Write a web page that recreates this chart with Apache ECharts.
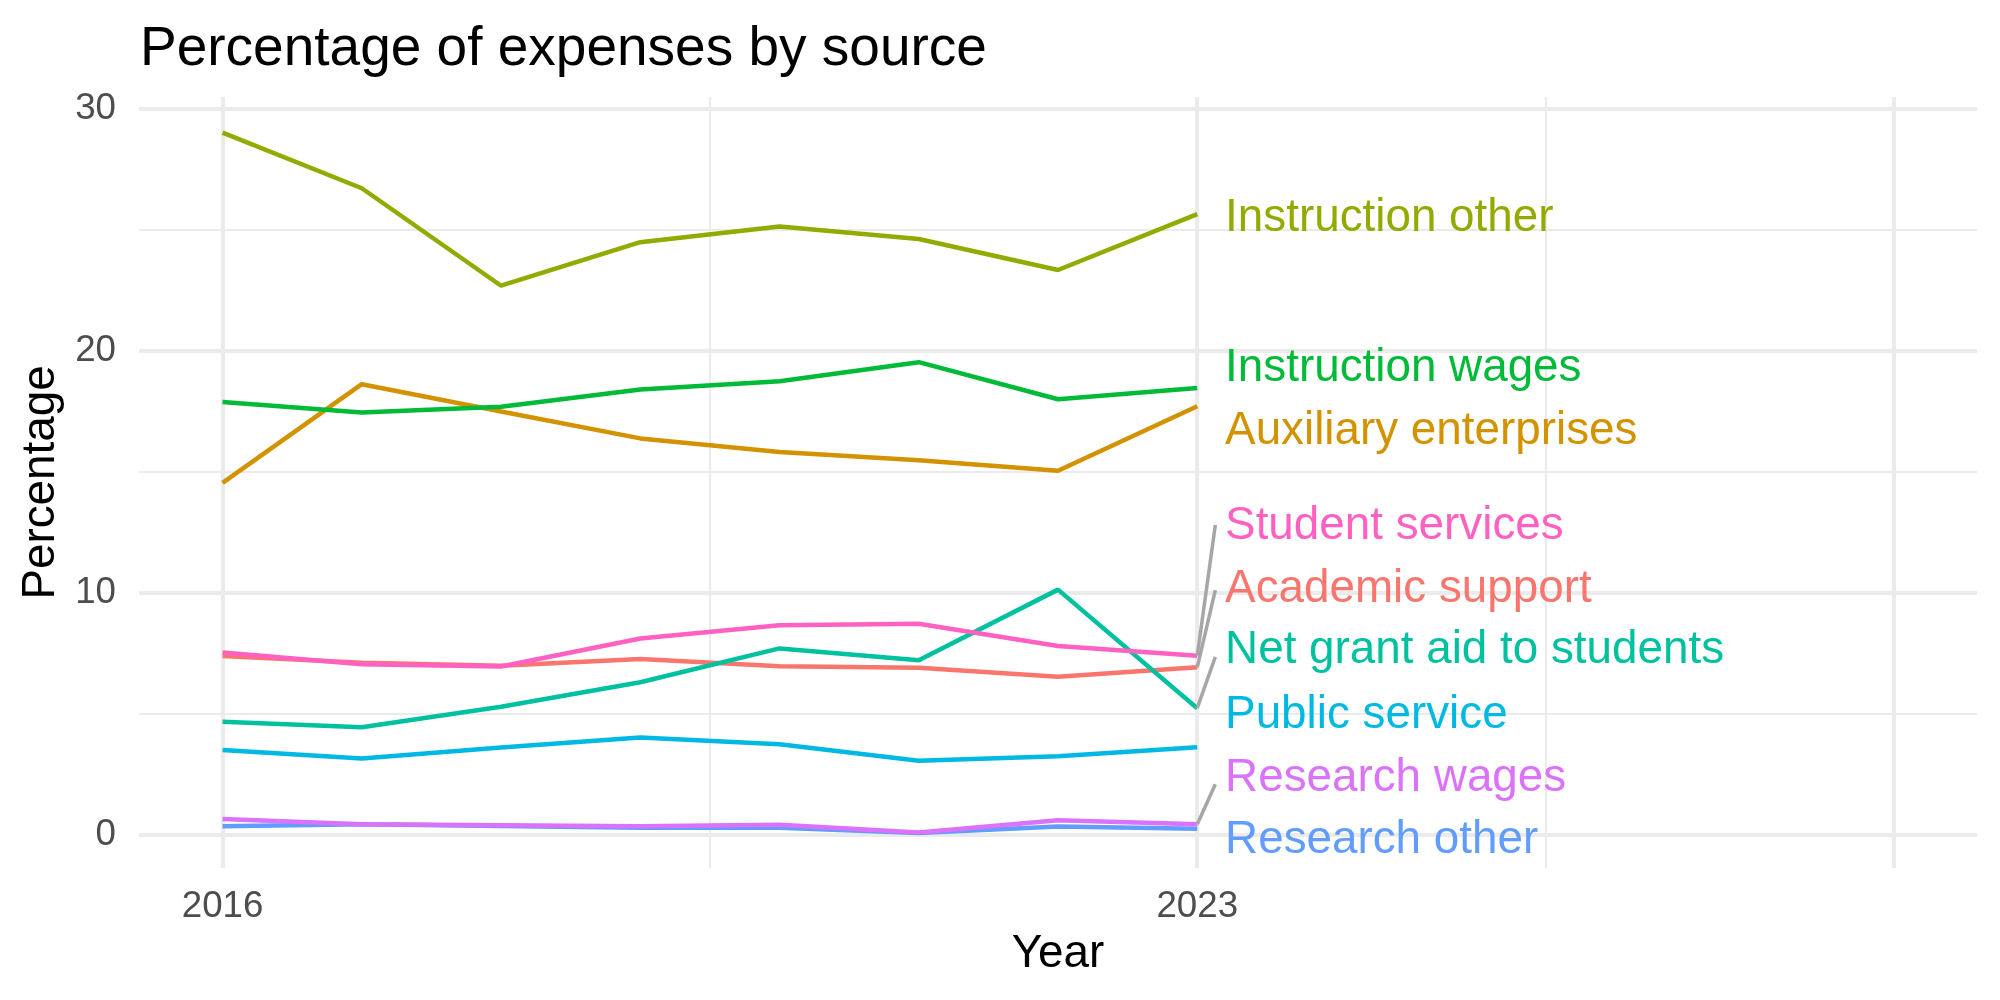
<!DOCTYPE html>
<html>
<head>
<meta charset="utf-8">
<script src="https://cdn.jsdelivr.net/npm/echarts@6/dist/echarts.min.js"></script>
<style>
  html, body { margin: 0; padding: 0; background: #fff; }
  #chart { width: 2000px; height: 1000px; }
</style>
</head>
<body>
<div id="chart"></div>
<script>
// years on the x axis
const years = [2016, 2017, 2018, 2019, 2020, 2021, 2022, 2023];

// percentage of expenses, one array per source
const academicSupport      = [7.40, 7.12, 6.99, 7.27, 6.97, 6.91, 6.54, 6.93];
const auxiliaryEnterprises = [14.55, 18.63, 17.50, 16.39, 15.83, 15.49, 15.05, 17.72];
const instructionOther     = [29.03, 26.73, 22.70, 24.50, 25.15, 24.63, 23.35, 25.66];
const instructionWages     = [17.89, 17.46, 17.70, 18.41, 18.75, 19.54, 18.01, 18.47];
const netGrantAid          = [4.68, 4.45, 5.30, 6.31, 7.71, 7.22, 10.14, 5.24];
const publicService        = [3.51, 3.16, 3.62, 4.03, 3.75, 3.07, 3.25, 3.63];
const researchOther        = [0.36, 0.44, 0.37, 0.30, 0.30, 0.08, 0.35, 0.26];
const researchWages        = [0.66, 0.44, 0.40, 0.36, 0.42, 0.10, 0.61, 0.44];
const studentServices      = [7.54, 7.06, 6.96, 8.12, 8.67, 8.73, 7.81, 7.41];

const sourceNames = [
    'Academic support', 'Auxiliary enterprises', 'Instruction other',
    'Instruction wages', 'Net grant aid to students', 'Public service',
    'Research other', 'Research wages', 'Student services'
];
const sourceValues = [
    academicSupport, auxiliaryEnterprises, instructionOther,
    instructionWages, netGrantAid, publicService,
    researchOther, researchWages, studentServices
];
const sourceColors = [
    '#F8766D', '#D39200', '#93AA00', '#00BA38', '#00C19F',
    '#00B9E3', '#619CFF', '#DB72FB', '#FF61C3'
];

// tick labels
const xTickLabels = [2016, 2023];
const yTickLabels = [0, 10, 20, 30];

// repelled label layout (value where each name sits, right of 2023)
const labelYear = 2023.2;
const labelValues = [10.33, 16.84, 25.64, 19.44, 7.78, 5.12, -0.07, 2.50, 12.94];
// connector tops for the labels that were pushed away
const connectorYear = 2023.13;
const connectorTops = [10.12, null, null, null, 7.36, null, null, 2.10, 12.81];

const series = [];

sourceNames.forEach(function (name, i) {
    series.push({
        name: name,
        type: 'line',
        symbol: 'none',
        silent: true,
        z: 3,
        lineStyle: { color: sourceColors[i], width: 4.5 },
        data: years.map(function (y, j) { return [y, sourceValues[i][j]]; })
    });
});

sourceNames.forEach(function (name, i) {
    if (connectorTops[i] === null) return;
    const last = sourceValues[i][sourceValues[i].length - 1];
    series.push({
        type: 'line',
        symbol: 'none',
        silent: true,
        z: 4,
        lineStyle: { color: '#A6A6A6', width: 3.5 },
        data: [[years[years.length - 1], last], [connectorYear, connectorTops[i]]]
    });
});

series.push({
    type: 'scatter',
    symbolSize: 0,
    silent: true,
    z: 5,
    itemStyle: { opacity: 1 },
    label: {
        show: true,
        position: 'right',
        distance: 0,
        offset: [0, 4],
        opacity: 1,
        fontFamily: 'Liberation Sans',
        fontSize: 45.8,
        formatter: function (p) { return p.name; }
    },
    data: sourceNames.map(function (name, i) {
        return {
            name: name,
            value: [labelYear, labelValues[i]],
            label: { color: sourceColors[i] }
        };
    })
});

const chart = echarts.init(document.getElementById('chart'));
chart.setOption({
    animation: false,
    backgroundColor: '#ffffff',
    textStyle: { fontFamily: 'Liberation Sans' },
    title: {
        text: 'Percentage of expenses by source',
        left: 140,
        top: 22,
        padding: 0,
        textStyle: {
            fontFamily: 'Liberation Sans',
            fontSize: 55,
            fontWeight: 'normal',
            color: '#000000'
        }
    },
    grid: {
        left: 139,
        right: 23,
        top: 97,
        bottom: 132,
        outerBoundsMode: 'none'
    },
    xAxis: [
        {
            type: 'value',
            min: 2015.4,
            max: 2028.6,
            name: 'Year',
            nameLocation: 'middle',
            nameGap: 63,
            nameTextStyle: { fontSize: 45.8, color: '#000000' },
            axisLine: { show: false },
            axisTick: { show: false, customValues: [2016, 2023, 2028] },
            axisLabel: {
                customValues: xTickLabels,
                formatter: function (v) { return String(v); },
                fontSize: 36.7,
                color: '#4D4D4D',
                margin: 20
            },
            splitLine: { show: true, lineStyle: { color: '#EBEBEB', width: 4 } }
        },
        {
            type: 'value',
            min: 2015.4,
            max: 2028.6,
            axisLine: { show: false },
            axisTick: { show: false, customValues: [2019.5, 2025.5] },
            axisLabel: { show: false },
            splitLine: { show: true, lineStyle: { color: '#EBEBEB', width: 2 } }
        }
    ],
    yAxis: [
        {
            type: 'value',
            min: -1.365,
            max: 30.5,
            name: 'Percentage',
            nameLocation: 'middle',
            nameGap: 68,
            nameRotate: 90,
            nameTextStyle: { fontSize: 45.8, color: '#000000' },
            axisLine: { show: false },
            axisTick: { show: false, customValues: yTickLabels },
            axisLabel: {
                customValues: yTickLabels,
                fontSize: 36.7,
                color: '#4D4D4D',
                margin: 23
            },
            splitLine: { show: true, lineStyle: { color: '#EBEBEB', width: 4 } }
        },
        {
            type: 'value',
            min: -1.365,
            max: 30.5,
            axisLine: { show: false },
            axisTick: { show: false, customValues: [5, 15, 25] },
            axisLabel: { show: false },
            splitLine: { show: true, lineStyle: { color: '#EBEBEB', width: 2 } }
        }
    ],
    series: series
});
</script>
</body>
</html>
